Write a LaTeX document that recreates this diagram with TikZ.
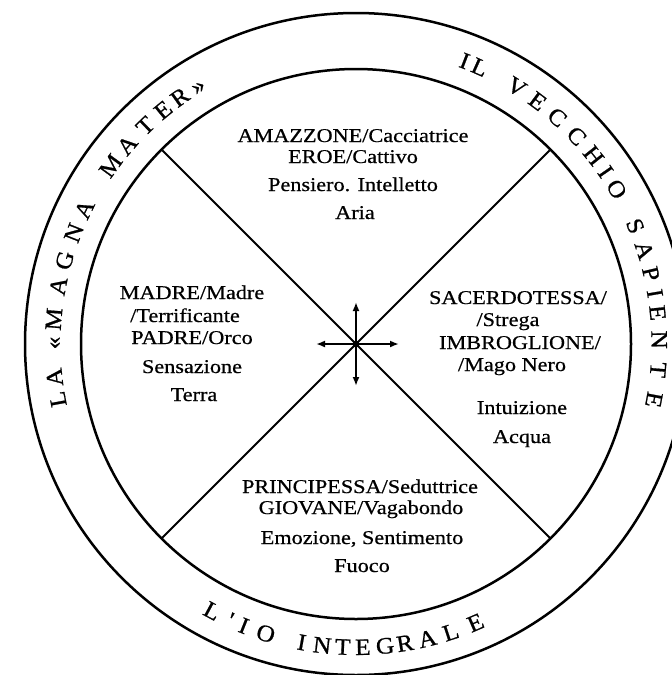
\documentclass[tikz,border=0pt]{standalone}
\usepackage{fontspec}
\setmainfont[FakeStretch=1.14,FakeBold=0.6]{Liberation Serif}
\newfontfamily\ringfont[FakeStretch=1.08,FakeBold=0.8]{Liberation Serif}
\usetikzlibrary{arrows.meta}
\begin{document}
\begin{tikzpicture}[x=1pt,y=-1pt,
  ring/.style={line width=2.5pt},
  divider/.style={line width=2.1pt},
  lbl/.style={anchor=base, inner sep=0pt, font=\fontsize{19.5}{22}\selectfont},
  rl/.style={anchor=base, inner sep=0pt, font=\ringfont\fontsize{23.5}{24}\selectfont},
  cross/.style={line width=1.8pt, -{Latex[length=9pt,width=7pt]}}]
\useasboundingbox (0,0) rectangle (672,675);
\fill[white] (0,0) rectangle (672,675);
\begin{scope}[shift={(356,344)}, y=1pt]
  \coordinate (c) at (0,0);
  \draw[ring] (c) circle[radius=331pt];
  \draw[ring] (c) circle[radius=275pt];
  \coordinate (d1) at (45:274);
  \coordinate (d2) at (135:274);
  \coordinate (d3) at (225:274);
  \coordinate (d4) at (315:274);
  \draw[divider] (d1) -- (d3);
  \draw[divider] (d2) -- (d4);
  \coordinate (aN) at (0,42);
  \coordinate (aS) at (0,-42);
  \coordinate (aE) at (43,0);
  \coordinate (aW) at (-40,0);
  \draw[cross] (c) -- (aN);
  \draw[cross] (c) -- (aS);
  \draw[cross] (c) -- (aE);
  \draw[cross] (c) -- (aW);
  \fill (c) circle[radius=3.5pt];
  % LA «MAGNA MATER»
  \foreach \a/\l [count=\i] in {190.5/L,186.3/A,179.8/«,175.3/M,169/A,164/G,158.5/N,153.6/A,
      144/M,139/A,134/T,129.5/E,125.5/R,121.5/»}
    \node[rl, rotate=\a-90] (m\i) at (\a:295.5) {\l};
  % IL VECCHIO SAPIENTE
  \foreach \a/\l [count=\i] in {69/I,65.9/L,58/V,53.2/E,48.4/C,43.3/C,38.4/H,34.6/I,30.7/O,
      22.9/S,18/A,13.4/P,9.6/I,5.9/E,0.8/N,-4.9/T,-10.6/E}
    \node[rl, rotate=\a-90] (v\i) at (\a:295.5) {\l};
  % L'IO INTEGRALE
  \foreach \a/\l [count=\i] in {241.7/L,245.5/',248.3/I,252.7/O,259.7/I,263.6/N,267.5/T,
      271.3/E,275.5/G,279.3/R,283.6/A,288.2/L,293.2/E}
    \node[rl, rotate=\a+90] (b\i) at (\a:311) {\l};
\end{scope}
% top quadrant
\node[lbl] (t1) at (353,142) {AMAZZONE/Cacciatrice};
\node[lbl] (t2) at (353,163) {EROE/Cattivo};
\node[lbl] (t3) at (353,191) {Pensiero. Intelletto};
\node[lbl] (t4) at (355,219) {Aria};
% left quadrant
\node[lbl] (l1) at (192,299) {MADRE/Madre};
\node[lbl] (l2) at (185,322) {/Terrificante};
\node[lbl] (l3) at (192,344) {PADRE/Orco};
\node[lbl] (l4) at (192,373) {Sensazione};
\node[lbl] (l5) at (194,401) {Terra};
% right quadrant
\node[lbl] (r1) at (518,304) {SACERDOTESSA/};
\node[lbl] (r2) at (508,326) {/Strega};
\node[lbl] (r3) at (520,349) {IMBROGLIONE/};
\node[lbl] (r4) at (512,371) {/Mago Nero};
\node[lbl] (r5) at (522,414) {Intuizione};
\node[lbl] (r6) at (522,443) {Acqua};
% bottom quadrant
\node[lbl] (s1) at (360,493) {PRINCIPESSA/Seduttrice};
\node[lbl] (s2) at (361,514) {GIOVANE/Vagabondo};
\node[lbl] (s3) at (362,544) {Emozione, Sentimento};
\node[lbl] (s4) at (362,572) {Fuoco};
\end{tikzpicture}
\end{document}
